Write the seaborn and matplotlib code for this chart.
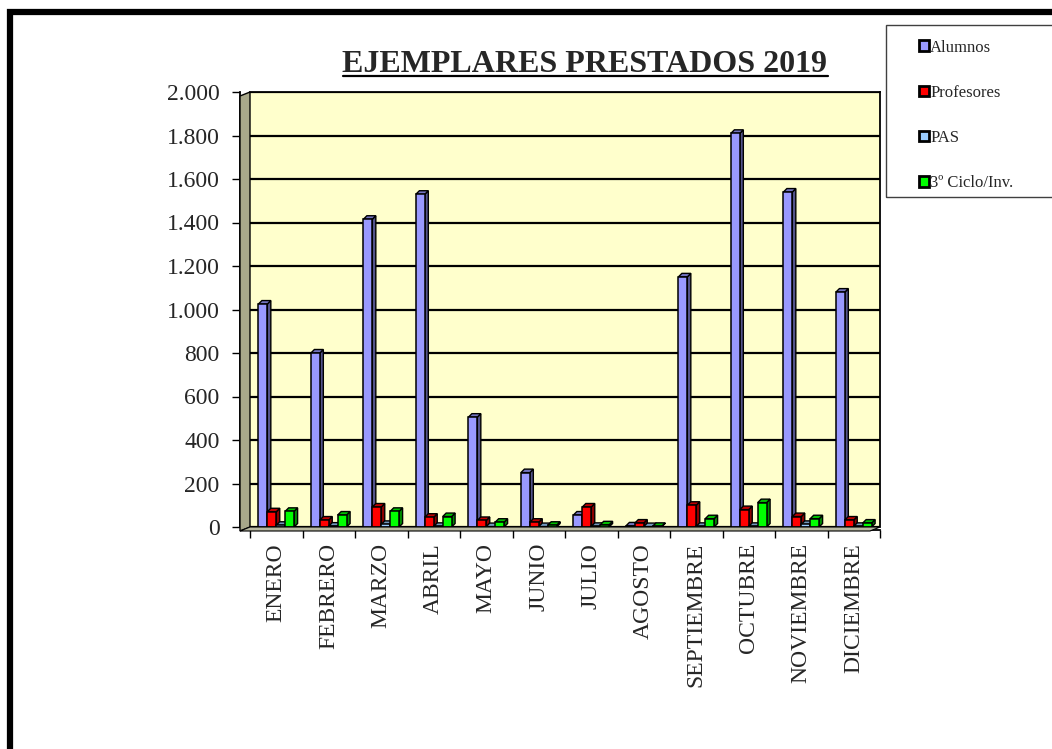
import numpy as np
import pandas as pd
import matplotlib
matplotlib.use("Agg")
import matplotlib.pyplot as plt
import matplotlib.patches as mpatches
from matplotlib.lines import Line2D
import seaborn as sns

# ---- Data ----
meses = ["ENERO", "FEBRERO", "MARZO", "ABRIL", "MAYO", "JUNIO", "JULIO",
         "AGOSTO", "SEPTIEMBRE", "OCTUBRE", "NOVIEMBRE", "DICIEMBRE"]
grupos = ["Alumnos", "Profesores", "PAS", "3º Ciclo/Inv."]

alumnos = [1025, 800, 1415, 1530, 505, 250, 55, 5, 1150, 1810, 1540, 1080]
profesores = [70, 32, 92, 45, 30, 22, 92, 18, 100, 80, 48, 32]
pas = [8, 4, 12, 3, 2, 2, 3, 2, 3, 3, 12, 3]
ciclo3 = [72, 55, 72, 48, 22, 8, 10, 3, 38, 112, 38, 18]

colores = ["#9999FF", "#FF0000", "#99CCFF", "#00FF00"]
yticks = [0, 200, 400, 600, 800, 1000, 1200, 1400, 1600, 1800, 2000]

df = pd.DataFrame({
    "mes": meses * 4,
    "grupo": np.repeat(grupos, len(meses)),
    "valor": alumnos + profesores + pas + ciclo3,
})

# ---- Figure ----
W, H = 1052, 749
sns.set_style("white")
plt.rcParams["font.family"] = ["Liberation Serif", "DejaVu Serif"]

fig = plt.figure(figsize=(W / 100, H / 100), dpi=100)
fig.patch.set_facecolor("white")

def fx(px):
    return px / W

def fy(py):
    return 1 - py / H

# back wall of the 3D chart
ax = fig.add_axes([fx(250), fy(527), fx(880) - fx(250), fy(92) - fy(527)])
ax.set_facecolor("#FFFFCC")

sns.barplot(data=df, x="mes", y="valor", hue="grupo", palette=colores,
            hue_order=grupos, order=meses, width=0.68, saturation=1,
            edgecolor="black", linewidth=1.1, legend=False, ax=ax)

ax.set_xlim(-0.5, len(meses) - 0.5)
ax.set_ylim(0, 2000)
ax.set_xlabel("")
ax.set_ylabel("")
ax.set_xticks(np.arange(-0.5, len(meses)), minor=True)
ax.tick_params(axis="x", which="major", length=0, pad=9, labelsize=17,
               labelrotation=90)
ax.tick_params(axis="x", which="minor", length=6, width=1, color="black",
               direction="out", bottom=True)
ax.tick_params(axis="y", length=6, width=1, color="black", direction="out",
               left=True, pad=9, labelsize=17)
ax.set_yticks(yticks)
ax.set_yticklabels([f"{v:,}".replace(",", ".") for v in yticks])
ax.set_xticks(range(len(meses)))
ax.set_xticklabels(meses)
ax.yaxis.grid(True, color="black", linewidth=1.6)
ax.set_axisbelow(True)
for s in ax.spines.values():
    s.set_color("black")
    s.set_linewidth(1.3)
ax.spines["left"].set_position(("outward", 7))
ax.spines["bottom"].set_position(("outward", 2.5))

# ---- 3D look: side and top faces of every bar ----
fig.canvas.draw()
p0 = ax.transData.transform((0, 0))
p1 = ax.transData.transform((1, 100))
dx = 3.5 / (p1[0] - p0[0])
dy = 3.5 / ((p1[1] - p0[1]) / 100)

def darker(c, f):
    r, g, b = matplotlib.colors.to_rgb(c)
    return (r * f, g * f, b * f)

for k, cont in enumerate(ax.containers):
    for bar in cont:
        x, w, h = bar.get_x(), bar.get_width(), bar.get_height()
        bar.set_zorder(3 + 2 * k)
        side = mpatches.Polygon([(x + w, 0), (x + w + dx, dy), (x + w + dx, h + dy), (x + w, h)],
                                closed=True, facecolor=darker(colores[k], 0.55),
                                edgecolor="black", linewidth=1.0, zorder=2 + 2 * k)
        top = mpatches.Polygon([(x, h), (x + dx, h + dy), (x + w + dx, h + dy), (x + w, h)],
                               closed=True, facecolor=darker(colores[k], 0.75),
                               edgecolor="black", linewidth=1.0, zorder=2 + 2 * k)
        ax.add_patch(side)
        ax.add_patch(top)

# side wall and floor
wall = mpatches.Polygon([(fx(240), fy(531)), (fx(250), fy(527)), (fx(250), fy(92)), (fx(240), fy(96))],
                        closed=True, transform=fig.transFigure, facecolor="#A8A88A",
                        edgecolor="black", linewidth=1.0)
floor = mpatches.Polygon([(fx(240), fy(531)), (fx(250), fy(527)), (fx(880), fy(527)), (fx(870), fy(531))],
                         closed=True, transform=fig.transFigure, facecolor="#B8B8A0",
                         edgecolor="black", linewidth=0.8)
fig.add_artist(wall)
fig.add_artist(floor)

# ---- Title with underline ----
title = fig.text(fx(585), fy(72), "EJEMPLARES PRESTADOS 2019", fontsize=23,
                 fontweight="bold", ha="center", va="baseline")
fig.canvas.draw()
bb = title.get_window_extent().transformed(fig.transFigure.inverted())
fig.add_artist(Line2D([bb.x0, bb.x1], [fy(76), fy(76)], color="black",
                      linewidth=1.6, transform=fig.transFigure))

# ---- Legend ----
handles = [mpatches.Patch(facecolor=c, edgecolor="black", linewidth=2.0, label=g)
           for c, g in zip(colores, grupos)]
leg = fig.legend(handles=handles, loc="upper left", bbox_to_anchor=(fx(912), fy(33)),
                 frameon=False, fontsize=12, handlelength=0.6, handleheight=0.6,
                 handletextpad=0.1, labelspacing=1.75, borderaxespad=0)
fig.add_artist(mpatches.Rectangle((fx(886), fy(197)), 1.2, fy(25) - fy(197),
                                  transform=fig.transFigure, facecolor="none",
                                  edgecolor="#404040", linewidth=1.0))

# ---- Outer frame ----
fig.add_artist(mpatches.Rectangle((fx(10), fy(800)), 1.2, fy(12) - fy(800),
                                  transform=fig.transFigure, facecolor="none",
                                  edgecolor="black", linewidth=4.5))

fig.savefig("out.png", dpi=100)
